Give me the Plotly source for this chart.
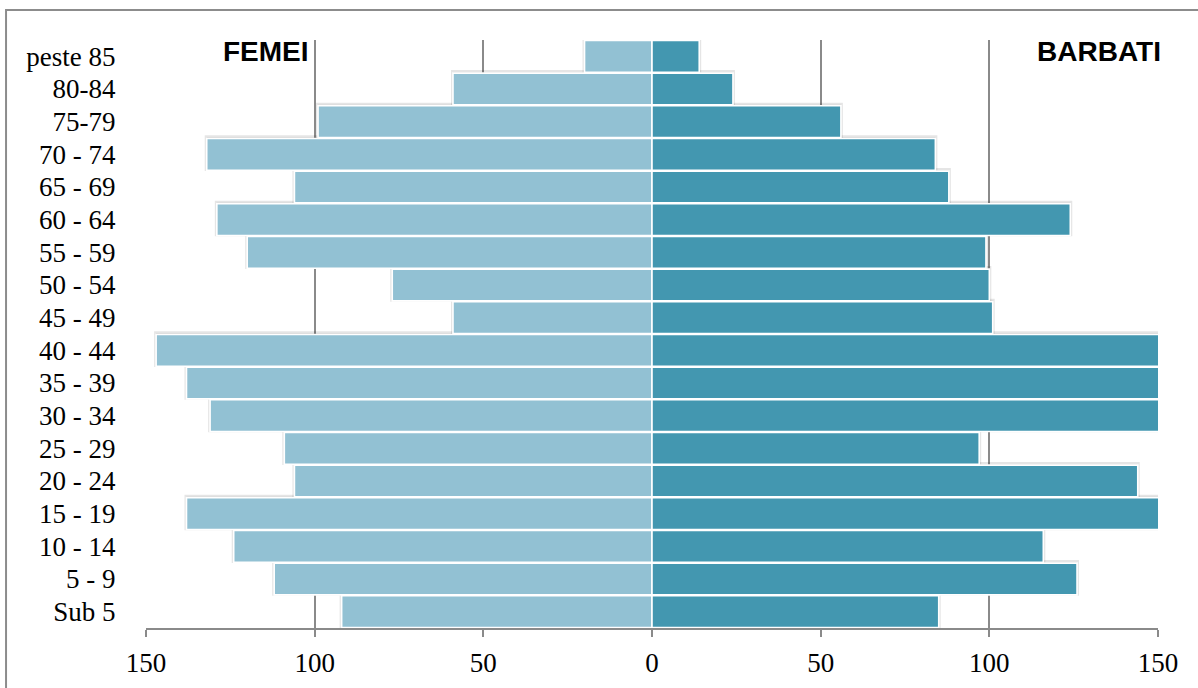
import plotly.graph_objects as go

# Age groups, bottom to top
grupe_varsta = ["Sub 5", "5 - 9", "10 - 14", "15 - 19", "20 - 24", "25 - 29",
                "30 - 34", "35 - 39", "40 - 44", "45 - 49", "50 - 54", "55 - 59",
                "60 - 64", "65 - 69", "70 - 74", "75-79", "80-84", "peste 85"]

femei = [92, 112, 124, 138, 106, 109, 131, 138, 147, 59, 77, 120,
         129, 106, 132, 99, 59, 20]
barbati = [85, 126, 116, 155, 144, 97, 153, 158, 160, 101, 100, 99,
           124, 88, 84, 56, 24, 14]

tick_vals = [-150, -100, -50, 0, 50, 100, 150]
tick_text = ["150", "100", "50", "0", "50", "100", "150"]

COL_F = "#92C1D3"
COL_B = "#4397B0"
GRID = "#8a8a8a"
SERIF = "Liberation Serif"

fig = go.Figure()

# soft drop shadows behind the bars
for vals, sign in ((femei, -1), (barbati, 1)):
    fig.add_trace(go.Bar(
        y=grupe_varsta, x=[sign * v for v in vals], orientation="h",
        marker=dict(color="rgba(0,0,0,0.10)",
                    line=dict(color="rgba(0,0,0,0.10)", width=4)),
        offset=-0.45, width=0.97, hoverinfo="skip", showlegend=False,
    ))

fig.add_trace(go.Bar(
    y=grupe_varsta, x=[-v for v in femei], orientation="h", name="FEMEI",
    marker=dict(color=COL_F, line=dict(color="white", width=1.6)),
    offset=-0.485, width=0.97, showlegend=False,
    customdata=femei, hovertemplate="%{y}: %{customdata}<extra>FEMEI</extra>",
))
fig.add_trace(go.Bar(
    y=grupe_varsta, x=barbati, orientation="h", name="BARBATI",
    marker=dict(color=COL_B, line=dict(color="white", width=1.6)),
    offset=-0.485, width=0.97, showlegend=False,
    hovertemplate="%{y}: %{x}<extra>BARBATI</extra>",
))

fig.update_layout(
    width=1198, height=688,
    margin=dict(l=146, r=40, t=40, b=60),
    paper_bgcolor="white", plot_bgcolor="white",
    barmode="overlay",
    font=dict(family=SERIF, size=27, color="black"),
    xaxis=dict(
        range=[-150, 150], tickmode="array", tickvals=tick_vals, ticktext=tick_text,
        showgrid=True, gridcolor=GRID, gridwidth=1.5, zeroline=False,
        showline=True, linecolor=GRID, linewidth=1.5,
        ticks="outside", ticklen=7, tickwidth=1.5, tickcolor=GRID,
        ticklabelstandoff=3, automargin=False,
        tickfont=dict(family=SERIF, size=27, color="black"),
        fixedrange=True,
    ),
    yaxis=dict(
        categoryorder="array", categoryarray=grupe_varsta,
        tickmode="array", tickvals=grupe_varsta, ticktext=grupe_varsta,
        range=[-0.5, 17.5],
        showgrid=False, zeroline=False, showline=False,
        ticks="outside", ticklen=24, tickcolor="rgba(0,0,0,0)",
        automargin=False,
        tickfont=dict(family=SERIF, size=27, color="black"),
        fixedrange=True,
    ),
    annotations=[
        dict(text="<b>FEMEI</b>", xref="paper", yref="paper", x=0.1186, y=0.981,
             xanchor="center", yanchor="middle", showarrow=False,
             font=dict(family="Liberation Sans", size=28, color="black")),
        dict(text="<b>BARBATI</b>", xref="paper", yref="paper", x=0.9417, y=0.981,
             xanchor="center", yanchor="middle", showarrow=False,
             font=dict(family="Liberation Sans", size=28, color="black")),
    ],
    shapes=[
        dict(type="rect", xref="paper", yref="paper",
             x0=-0.1383, x1=1.2, y0=-0.3, y1=1.051,
             line=dict(color="#8c8c8c", width=2), fillcolor="rgba(0,0,0,0)",
             layer="below"),
    ],
)

fig.write_html("out.html", config={"displayModeBar": False})
